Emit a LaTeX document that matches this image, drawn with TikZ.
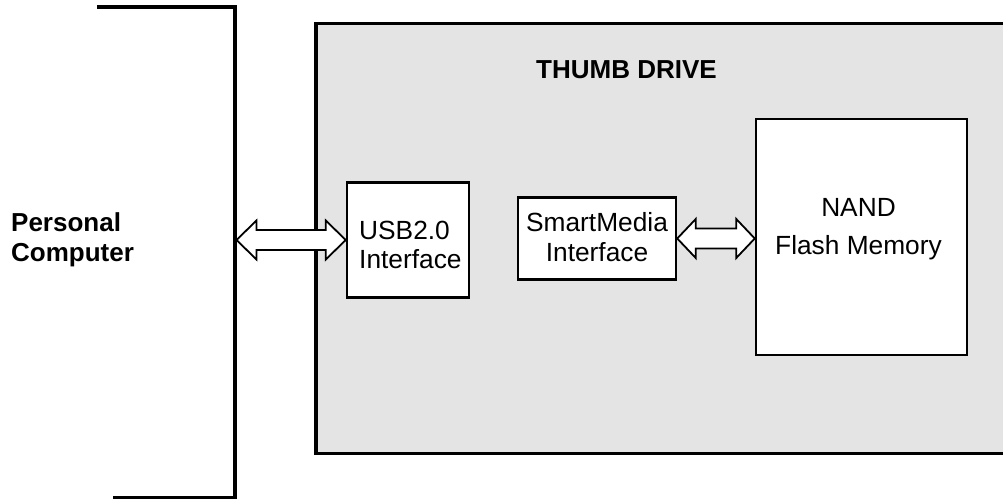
\documentclass[tikz,border=0pt]{standalone}
\usepackage{fontspec}
\setmainfont{Liberation Sans}
\usetikzlibrary{calc}
\definecolor{drivegray}{RGB}{228,228,228}
\tikzset{
  box/.style={draw, line width=2.5pt, fill=white, align=center, inner sep=0pt},
  lbl/.style={font=\fontsize{26.3}{29.5}\selectfont, align=center, inner sep=0pt},
  boldlbl/.style={font=\fontsize{26}{30.5}\selectfont\bfseries, inner sep=0pt},
  barrow/.style={draw, line width=1.8pt, fill=white, line join=miter},
  heavy/.style={line width=3.3pt},
}
% #1 left tip, #2 right tip, #3 head length
\newcommand\blockarrow[3]{%
  \draw[barrow] let \p1=#1, \p2=#2 in
    (\x1,\y1) -- ++(#3,19.5pt) -- ++(0pt,-9.5pt) -- (\x2-#3,\y1+10pt) -- ++(0pt,9.5pt)
    -- (\x2,\y2) -- ++(-#3,-19.5pt) -- ++(0pt,9.5pt) -- (\x1+#3,\y1-10pt) -- ++(0pt,-9.5pt) -- cycle;}
\begin{document}
\begin{tikzpicture}[x=1pt,y=-1pt]
\useasboundingbox (0,0) rectangle (1003,500);
\clip (0,0) rectangle (1003,500);
% thumb drive
\draw[heavy, fill=drivegray] (316,23.5) rectangle (1012,453.5);
\node[boldlbl, anchor=west] (title) at (536,70) {THUMB DRIVE};
% PC bracket
\draw[heavy] (97,7) -- (235,7) -- (235,497.5) -- (113,497.5);
\node[boldlbl, align=left, anchor=west] (pc) at (11,240) {Personal\\Computer};
\coordinate (pcport) at (236.5,240);
% boxes
\node[box, minimum width=122pt, minimum height=115pt] (usb) at (408,240) {};
\node[lbl, align=left, anchor=west] (usbtxt) at (359,245) {USB2.0\\Interface};
\node[box, minimum width=158pt, minimum height=82pt] (sm) at (597,238.5) {};
\node[lbl] (smtxt) at (597,237) {SmartMedia\\Interface};
\node[box, minimum width=211pt, minimum height=236pt] (nand) at (861.5,237) {};
\node[lbl] (nandtxt) at (858.5,229) {NAND\\[8.5pt]Flash Memory};
% arrows
\blockarrow{(pcport)}{(usb.west)}{20pt}
\blockarrow{(sm.east)}{(nand.west |- sm.east)}{18.5pt}
\end{tikzpicture}
\end{document}
